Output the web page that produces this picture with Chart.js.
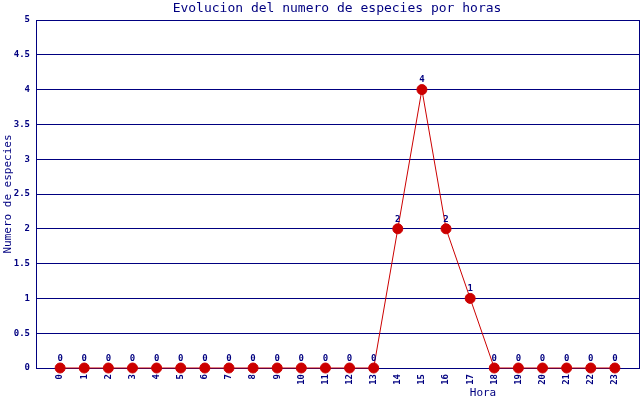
<!DOCTYPE html>
<html>
<head>
<meta charset="utf-8">
<script src="https://cdn.jsdelivr.net/npm/chart.js@4"></script>
<style>
  html, body { margin: 0; padding: 0; background: #fff; }
  #wrap { width: 640px; height: 400px; }
</style>
</head>
<body>
<div id="wrap"><canvas id="c" width="640" height="400"></canvas></div>
<script>
const hours = [0, 1, 2, 3, 4, 5, 6, 7, 8, 9, 10, 11, 12, 13, 14, 15, 16, 17, 18, 19, 20, 21, 22, 23];
const especies = [0, 0, 0, 0, 0, 0, 0, 0, 0, 0, 0, 0, 0, 0, 2, 4, 2, 1, 0, 0, 0, 0, 0, 0];
const yTicks = [0, 0.5, 1, 1.5, 2, 2.5, 3, 3.5, 4, 4.5, 5];

const navy = '#000080';
const red = '#cc0000';
const mono = '"DejaVu Sans Mono", "Liberation Mono", monospace';

const labelsPlugin = {
  id: 'texts',
  afterDatasetsDraw(chart) {
    const ctx = chart.ctx;
    const meta = chart.getDatasetMeta(0);
    ctx.save();
    ctx.fillStyle = navy;
    ctx.font = 'bold 9px ' + mono;
    ctx.textAlign = 'center';
    ctx.textBaseline = 'bottom';
    meta.data.forEach((pt, i) => {
      ctx.fillText(String(especies[i]), pt.x, pt.y - 5);
    });
    ctx.restore();
  },
  afterDraw(chart) {
    const ctx = chart.ctx;
    const area = chart.chartArea;
    ctx.save();
    ctx.fillStyle = navy;
    ctx.textBaseline = 'middle';
    ctx.textAlign = 'center';
    ctx.font = '13px ' + mono;
    ctx.fillText('Evolucion del numero de especies por horas', 337, 9);
    ctx.font = '11px ' + mono;
    ctx.fillText('Hora', 483, 393);
    ctx.translate(8, (area.top + area.bottom) / 2);
    ctx.rotate(-Math.PI / 2);
    ctx.fillText('Numero de especies', 0, 0);
    ctx.restore();
  }
};

new Chart(document.getElementById('c'), {
  type: 'line',
  data: {
    datasets: [{
      data: hours.map((h, i) => ({ x: h, y: especies[i] })),
      borderColor: red,
      borderWidth: 1,
      backgroundColor: red,
      pointBackgroundColor: red,
      pointBorderColor: red,
      pointRadius: 5,
      pointHoverRadius: 5,
      tension: 0,
      clip: false
    }]
  },
  options: {
    responsive: false,
    animation: false,
    devicePixelRatio: 1,
    layout: { autoPadding: false, padding: { top: 20, right: 1, left: 0, bottom: 0 } },
    plugins: { legend: { display: false }, tooltip: { enabled: false }, title: { display: false } },
    scales: {
      x: {
        type: 'linear',
        min: -1,
        max: 24,
        afterFit: (s) => { s.height = 32; s.paddingLeft = 0; s.paddingRight = 0; },
        afterBuildTicks: (s) => {
          s.ticks = [-1].concat(hours, [24]).map((v) => ({ value: v }));
        },
        ticks: {
          autoSkip: false,
          maxRotation: 90,
          minRotation: 90,
          color: navy,
          font: { family: mono, size: 9, weight: 'bold' },
          padding: 6,
          callback: (v) => (v < 0 || v > 23 ? '' : String(v))
        },
        grid: {
          drawTicks: false,
          color: (c) => (c.tick && (c.tick.value === -1 || c.tick.value === 24) ? navy : 'rgba(0,0,0,0)'),
          lineWidth: 1
        },
        border: { display: true, color: navy, width: 1 }
      },
      y: {
        min: 0,
        max: 5,
        afterFit: (s) => { s.width = 36; s.paddingTop = 0; s.paddingBottom = 0; },
        afterBuildTicks: (s) => {
          s.ticks = yTicks.map((v) => ({ value: v }));
        },
        ticks: {
          color: navy,
          font: { family: mono, size: 9, weight: 'bold' },
          padding: 6,
          callback: (v) => String(v)
        },
        grid: { drawTicks: false, color: navy, lineWidth: 1 },
        border: { display: true, color: navy, width: 1 }
      }
    }
  },
  plugins: [labelsPlugin]
});
</script>
</body>
</html>
